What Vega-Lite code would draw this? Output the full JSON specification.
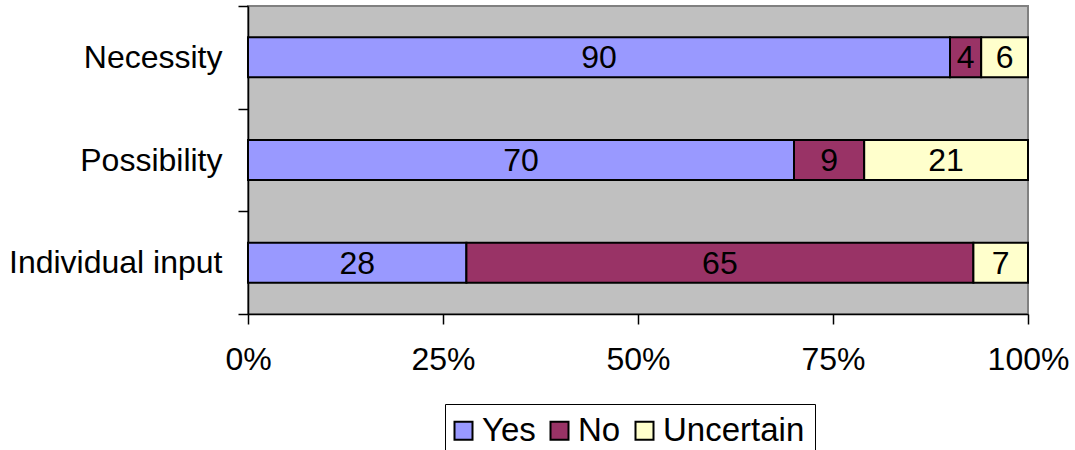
{
  "$schema": "https://vega.github.io/schema/vega-lite/v6.json",
  "autosize": "none",
  "width": 780,
  "height": 308,
  "padding": {"left": 248, "top": 6, "right": 47, "bottom": 136},
  "background": "white",
  "config": {
    "font": "Liberation Sans",
    "view": {"fill": "#C0C0C0", "stroke": "#808080", "strokeWidth": 2},
    "axis": {
      "domainColor": "black",
      "domainWidth": 1.5,
      "tickColor": "black",
      "tickWidth": 1.5,
      "tickSize": 10,
      "labelFontSize": 32,
      "labelColor": "black",
      "labelLimit": 0,
      "grid": false,
      "title": null
    }
  },
  "data": {
    "values": [
      {"item": "Necessity", "answer": "Yes", "k": 1, "pct": 90},
      {"item": "Necessity", "answer": "No", "k": 2, "pct": 4},
      {"item": "Necessity", "answer": "Uncertain", "k": 3, "pct": 6},
      {"item": "Possibility", "answer": "Yes", "k": 1, "pct": 70},
      {"item": "Possibility", "answer": "No", "k": 2, "pct": 9},
      {"item": "Possibility", "answer": "Uncertain", "k": 3, "pct": 21},
      {"item": "Individual input", "answer": "Yes", "k": 1, "pct": 28},
      {"item": "Individual input", "answer": "No", "k": 2, "pct": 65},
      {"item": "Individual input", "answer": "Uncertain", "k": 3, "pct": 7}
    ]
  },
  "encoding": {
    "y": {
      "field": "item",
      "type": "nominal",
      "sort": ["Necessity", "Possibility", "Individual input"],
      "scale": {"paddingInner": 0, "paddingOuter": 0},
      "axis": {"tickBand": "extent", "labelPadding": 16}
    },
    "order": {"field": "k", "type": "quantitative"}
  },
  "layer": [
    {
      "mark": {"type": "bar", "stroke": "black", "strokeWidth": 2, "height": {"band": 0.39}},
      "encoding": {
        "x": {
          "field": "pct",
          "type": "quantitative",
          "stack": "normalize",
          "scale": {"domain": [0, 1]},
          "axis": {"format": "%", "values": [0, 0.25, 0.5, 0.75, 1], "labelPadding": 20, "labelFlush": false}
        },
        "color": {
          "field": "answer",
          "type": "nominal",
          "scale": {
            "domain": ["Yes", "No", "Uncertain"],
            "range": ["#9999FF", "#993366", "#FFFFCC"]
          },
          "legend": {
            "orient": "none",
            "legendX": 197,
            "legendY": 398,
            "direction": "horizontal",
            "title": null,
            "labelFontSize": 33,
            "labelColor": "black",
            "labelOffset": 2,
            "columnPadding": 10,
            "symbolOffset": -8,
            "symbolType": "square",
            "symbolSize": 324,
            "symbolStrokeColor": "black",
            "symbolStrokeWidth": 2,
            "symbolOpacity": 1,
            "strokeColor": "black",
            "fillColor": "white",
            "padding": 10
          }
        }
      }
    },
    {
      "mark": {"type": "text", "fontSize": 32, "color": "black", "baseline": "middle", "dy": 1},
      "encoding": {
        "x": {"field": "pct", "type": "quantitative", "stack": "normalize", "bandPosition": 0.5},
        "text": {"field": "pct", "type": "quantitative"}
      }
    }
  ]
}
